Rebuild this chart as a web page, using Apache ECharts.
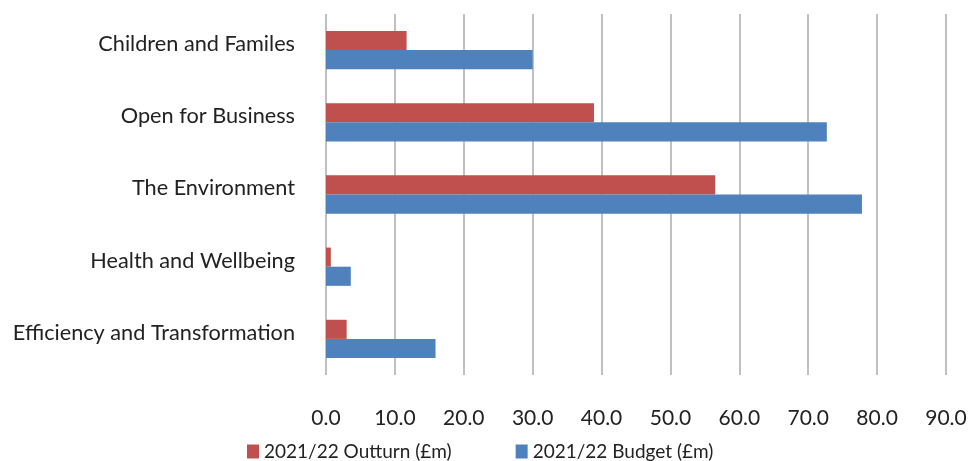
<!DOCTYPE html>
<html>
<head>
<meta charset="utf-8">
<script src="https://cdn.jsdelivr.net/npm/echarts@6/dist/echarts.min.js"></script>
<style>
  html, body { margin: 0; padding: 0; background: #fff; }
  #chart { width: 971px; height: 461px; }
</style>
</head>
<body>
<div id="chart"></div>
<script>
// Programme areas, listed top to bottom
const categories = [
  'Children and Familes',
  'Open for Business',
  'The Environment',
  'Health and Wellbeing',
  'Efficiency and Transformation'
];
const outturn = [11.7, 38.9, 56.5, 0.7, 3.0];   // 2021/22 Outturn (£m)
const budget  = [30.0, 72.7, 77.8, 3.6, 15.9];  // 2021/22 Budget (£m)
const axisMin = 0, axisMax = 90, axisStep = 10;

const FONT = 'Lato, "Open Sans", sans-serif';
const chart = echarts.init(document.getElementById('chart'), null, { renderer: 'canvas' });

chart.setOption({
  animation: false,
  backgroundColor: '#ffffff',
  textStyle: { fontFamily: FONT },
  grid: { left: 326, right: 25, top: 14, bottom: 86, containLabel: false },
  legend: {
    top: 442,
    left: 247,
    padding: 0,
    itemWidth: 12,
    itemHeight: 14,
    itemGap: 64,
    icon: 'rect',
    textStyle: { fontFamily: FONT, fontSize: 19, color: '#222' },
    data: ['2021/22 Outturn (£m)', '2021/22 Budget (£m)']
  },
  xAxis: {
    type: 'value',
    min: axisMin,
    max: axisMax,
    interval: axisStep,
    axisLine: { show: false },
    axisTick: { show: false },
    axisLabel: {
      margin: 33,
      fontFamily: FONT,
      fontSize: 21,
      color: '#222',
      formatter: v => v.toFixed(1)
    },
    splitLine: { show: true, lineStyle: { color: '#c0c0c0', width: 2 } }
  },
  yAxis: {
    type: 'category',
    inverse: true,
    data: categories,
    axisLine: { show: false },
    axisTick: { show: false },
    axisLabel: {
      margin: 31,
      fontFamily: FONT,
      fontSize: 21.7,
      color: '#222',
      // labels sit a little above the centre of each pair of bars
      verticalAlign: 'bottom',
      lineHeight: 12
    },
    splitLine: { show: false }
  },
  series: [
    {
      name: '2021/22 Outturn (£m)',
      type: 'bar',
      data: outturn,
      itemStyle: { color: '#c0504d' },
      barGap: '0%',
      barCategoryGap: '47%'
    },
    {
      name: '2021/22 Budget (£m)',
      type: 'bar',
      data: budget,
      itemStyle: { color: '#4f81bd' },
      barGap: '0%',
      barCategoryGap: '47%'
    }
  ]
});
</script>
</body>
</html>
